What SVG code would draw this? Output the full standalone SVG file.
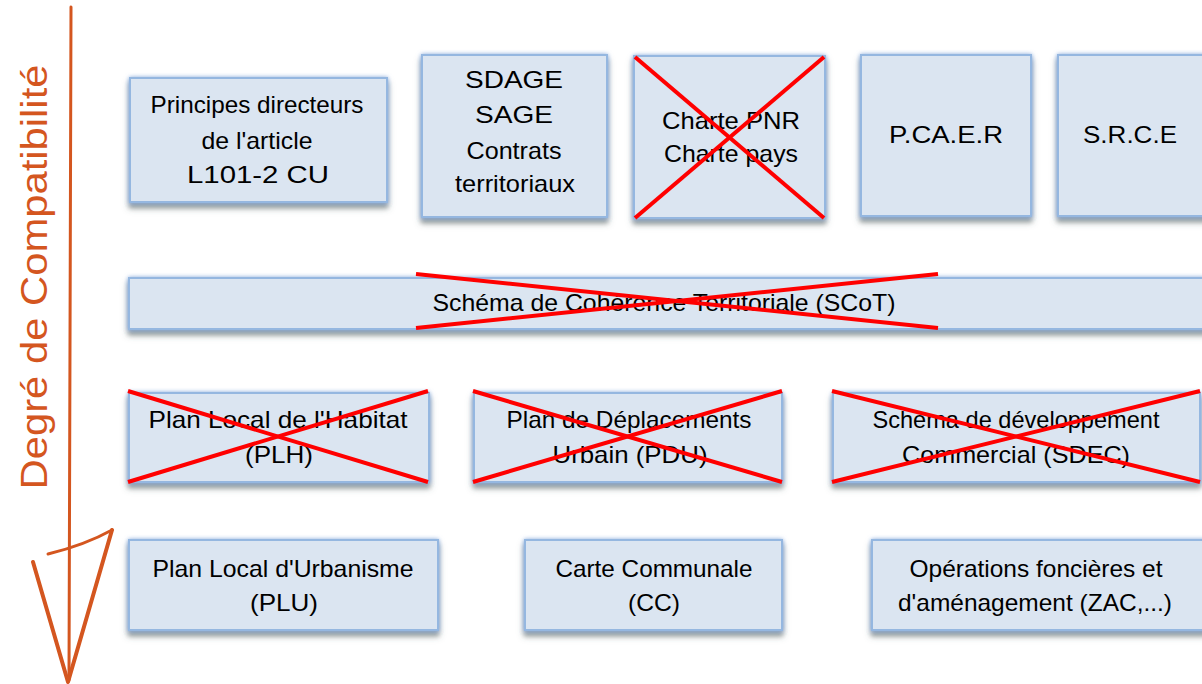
<svg xmlns="http://www.w3.org/2000/svg" width="1202" height="684" viewBox="0 0 1202 684">
<style>
.box{fill:#dbe5f1;stroke:#95b7e0;stroke-width:2;filter:url(#sh)}
.t{font-family:"Liberation Sans",Arial,sans-serif;font-size:24px;fill:#000;text-anchor:middle}
.x{stroke:#ff0000;stroke-width:4;stroke-linecap:butt;fill:none}
.arr{stroke:#d4561f;fill:none;stroke-linecap:round;stroke-linejoin:round}
</style>
<defs>
<filter id="sh" x="-10%" y="-20%" width="120%" height="150%">
<feDropShadow dx="0" dy="0" stdDeviation="2" flood-color="#7ea6dc" flood-opacity="0.9" result="g"/>
<feDropShadow in="g" dx="0" dy="5" stdDeviation="2.5" flood-color="#4d5a5a" flood-opacity="0.6"/>
</filter>
</defs>
<rect width="1202" height="684" fill="#ffffff"/>

<g id="axis">
<line class="arr" x1="71" y1="7" x2="69" y2="680" stroke-width="3"/>
<path class="arr" d="M33 562 L68 682 L112 530" stroke-width="4"/>
<path class="arr" d="M48 554 Q85 545 112 530" stroke-width="3"/>
<text x="0" y="0" transform="translate(47 277) rotate(-90)" font-family="Liberation Sans,Arial,sans-serif" font-size="36" fill="#d4561f" text-anchor="middle" textLength="425" lengthAdjust="spacingAndGlyphs">Degré de Compatibilité</text>
</g>

<g id="principes">
<rect class="box" x="130" y="78" width="257" height="124"/>
<text class="t" x="257" y="113" textLength="213" lengthAdjust="spacingAndGlyphs">Principes directeurs</text>
<text class="t" x="257" y="149" textLength="111" lengthAdjust="spacingAndGlyphs">de l'article</text>
<text class="t" x="258" y="183" textLength="142" lengthAdjust="spacingAndGlyphs">L101-2 CU</text>
</g>

<g id="sdage">
<rect class="box" x="422" y="55" width="185" height="162"/>
<text class="t" x="514" y="88" textLength="98" lengthAdjust="spacingAndGlyphs">SDAGE</text>
<text class="t" x="514" y="123" textLength="78" lengthAdjust="spacingAndGlyphs">SAGE</text>
<text class="t" x="514" y="159" textLength="95" lengthAdjust="spacingAndGlyphs">Contrats</text>
<text class="t" x="515" y="192" textLength="120" lengthAdjust="spacingAndGlyphs">territoriaux</text>
</g>

<g id="charte">
<rect class="box" x="634" y="56" width="191" height="162"/>
<text class="t" x="731" y="129" textLength="138" lengthAdjust="spacingAndGlyphs">Charte PNR</text>
<text class="t" x="731" y="162" textLength="134" lengthAdjust="spacingAndGlyphs">Charte pays</text>
<line class="x" x1="635" y1="57" x2="824" y2="218"/>
<line class="x" x1="635" y1="218" x2="824" y2="57"/>
</g>

<g id="pcaer">
<rect class="box" x="861" y="55" width="170" height="161"/>
<text class="t" x="946" y="143" textLength="114" lengthAdjust="spacingAndGlyphs">P.CA.E.R</text>
</g>

<g id="srce">
<rect class="box" x="1058" y="55" width="150" height="161"/>
<text class="t" x="1130" y="143" textLength="94" lengthAdjust="spacingAndGlyphs">S.R.C.E</text>
</g>

<g id="scot">
<rect class="box" x="129" y="278" width="1080" height="51"/>
<text class="t" x="664" y="311" textLength="463" lengthAdjust="spacingAndGlyphs">Schéma de Cohérence Territoriale (SCoT)</text>
<line class="x" x1="416" y1="274" x2="938" y2="328"/>
<line class="x" x1="416" y1="328" x2="938" y2="274"/>
</g>

<g id="plh">
<rect class="box" x="129" y="393" width="300" height="89"/>
<text class="t" x="278" y="428" textLength="259" lengthAdjust="spacingAndGlyphs">Plan Local de l'Habitat</text>
<text class="t" x="279" y="463" textLength="68" lengthAdjust="spacingAndGlyphs">(PLH)</text>
<line class="x" x1="128" y1="391" x2="428" y2="482"/>
<line class="x" x1="128" y1="482" x2="428" y2="391"/>
</g>

<g id="pdu">
<rect class="box" x="474" y="393" width="308" height="89"/>
<text class="t" x="629" y="428" textLength="245" lengthAdjust="spacingAndGlyphs">Plan de Déplacements</text>
<text class="t" x="630" y="463" textLength="155" lengthAdjust="spacingAndGlyphs">Urbain (PDU)</text>
<line class="x" x1="473" y1="391" x2="782" y2="482"/>
<line class="x" x1="473" y1="482" x2="782" y2="391"/>
</g>

<g id="sdec">
<rect class="box" x="833" y="393" width="367" height="89"/>
<text class="t" x="1016" y="428" textLength="287" lengthAdjust="spacingAndGlyphs">Schema de développement</text>
<text class="t" x="1016" y="463" textLength="228" lengthAdjust="spacingAndGlyphs">Commercial (SDEC)</text>
<line class="x" x1="832" y1="391" x2="1200" y2="482"/>
<line class="x" x1="832" y1="482" x2="1200" y2="391"/>
</g>

<g id="plu">
<rect class="box" x="129" y="540" width="309" height="90"/>
<text class="t" x="283" y="577" textLength="261" lengthAdjust="spacingAndGlyphs">Plan Local d'Urbanisme</text>
<text class="t" x="284" y="611" textLength="68" lengthAdjust="spacingAndGlyphs">(PLU)</text>
</g>

<g id="cc">
<rect class="box" x="525" y="540" width="257" height="90"/>
<text class="t" x="654" y="577" textLength="197" lengthAdjust="spacingAndGlyphs">Carte Communale</text>
<text class="t" x="654" y="611" textLength="52" lengthAdjust="spacingAndGlyphs">(CC)</text>
</g>

<g id="operations">
<rect class="box" x="872" y="540" width="335" height="90"/>
<text class="t" x="1036" y="577" textLength="253" lengthAdjust="spacingAndGlyphs">Opérations foncières et</text>
<text class="t" x="1035" y="611" textLength="274" lengthAdjust="spacingAndGlyphs">d'aménagement (ZAC,...)</text>
</g>

<g id="connectors"></g>
</svg>
